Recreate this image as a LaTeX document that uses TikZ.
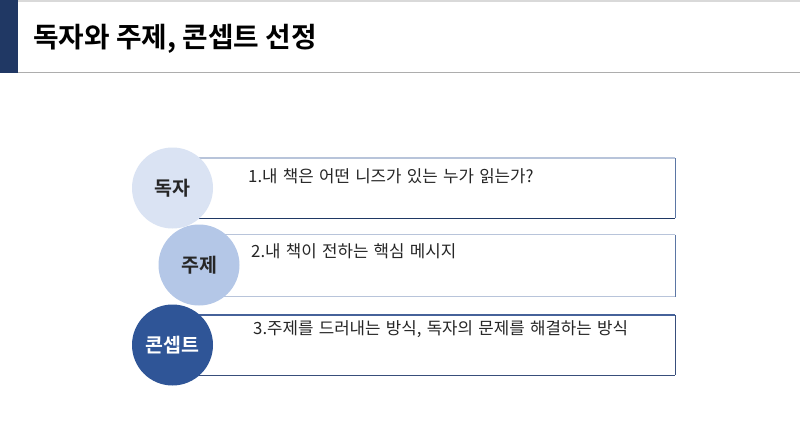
\documentclass[tikz,border=0pt]{standalone}
\usepackage{fontspec}
\newfontfamily\krfont[WordSpace=1.4]{Noto Sans CJK KR}
\newfontfamily\krbold{Noto Sans CJK KR Bold}
\newfontfamily\krmed{Noto Sans CJK KR Medium}
\definecolor{navy}{HTML}{203864}
\definecolor{cA}{HTML}{DAE3F3}
\definecolor{cB}{HTML}{B4C7E7}
\definecolor{cC}{HTML}{2F5597}
\definecolor{edgeL}{HTML}{B8C4DA}
\definecolor{edgeM}{HTML}{5B76A4}
\definecolor{edgeD}{HTML}{1F3864}
\definecolor{edgeC}{HTML}{46629A}
\definecolor{txt}{HTML}{262626}
\begin{document}
\begin{tikzpicture}[x=1pt,y=-1pt,
  circ/.style={circle,minimum size=81pt,inner sep=0pt,font=\krbold\fontsize{19.5}{20}\selectfont},
  boxnode/.style={rectangle,inner sep=0pt,anchor=north west},
  label/.style={anchor=west,inner sep=0pt,font=\krfont\fontsize{16.8}{17}\selectfont,text=txt},
  edge/.style={line width=1.1pt}]
\useasboundingbox (0,0) rectangle (800,447);
\fill[white] (0,0) rectangle (800,447);
% header
\draw[line width=1.5pt,color=black!15] (0,1) -- (800,1);
\draw[line width=1.6pt,color=black!32] (18,72.5) -- (800,72.5);
\fill[navy] (0,0) rectangle (18,73);
\node[anchor=west,inner sep=0pt,font=\krbold\fontsize{27.8}{28}\selectfont,text=black] (title) at (33,38.5) {독자와 주제, 콘셉트 선정};
% boxes
\node[boxnode,minimum width=480pt,minimum height=60pt] (b1) at (195,158) {};
\node[boxnode,minimum width=455pt,minimum height=62pt] (b2) at (220,234.5) {};
\node[boxnode,minimum width=480pt,minimum height=60pt] (b3) at (195,315) {};
\draw[edge,edgeL] (b1.north west) -- (b1.north east);
\draw[edge,edgeM] (b1.north east) -- (b1.south east);
\draw[edge,edgeD] (b1.south west) -- (b1.south east);
\draw[edge,edgeL] (b2.north west) -- (b2.north east);
\draw[edge,edgeM] (b2.north east) -- (b2.south east);
\draw[edge,edgeL] (b2.south west) -- (b2.south east);
\draw[edge,edgeC] (b3.north west) -- (b3.north east);
\draw[edge,edgeC!80!black] (b3.north east) -- (b3.south east);
\draw[edge,edgeC!80!black] (b3.south west) -- (b3.south east);
% texts
\node[label] (t1) at (248,176) {1.내 책은 어떤 니즈가 있는 누가 읽는가?};
\node[label] (t2) at (251,251.5) {2.내 책이 전하는 핵심 메시지};
\node[label] (t3) at (253,329) {3.주제를 드러내는 방식, 독자의 문제를 해결하는 방식};
% circles
\node[circ,fill=cA,text=txt] (c1) at (172.5,188) {독자};
\node[circ,fill=cB,text=txt] (c2) at (199,265) {주제};
\node[circ,fill=cC,text=white] (c3) at (172.5,345) {콘셉트};
\end{tikzpicture}
\end{document}
